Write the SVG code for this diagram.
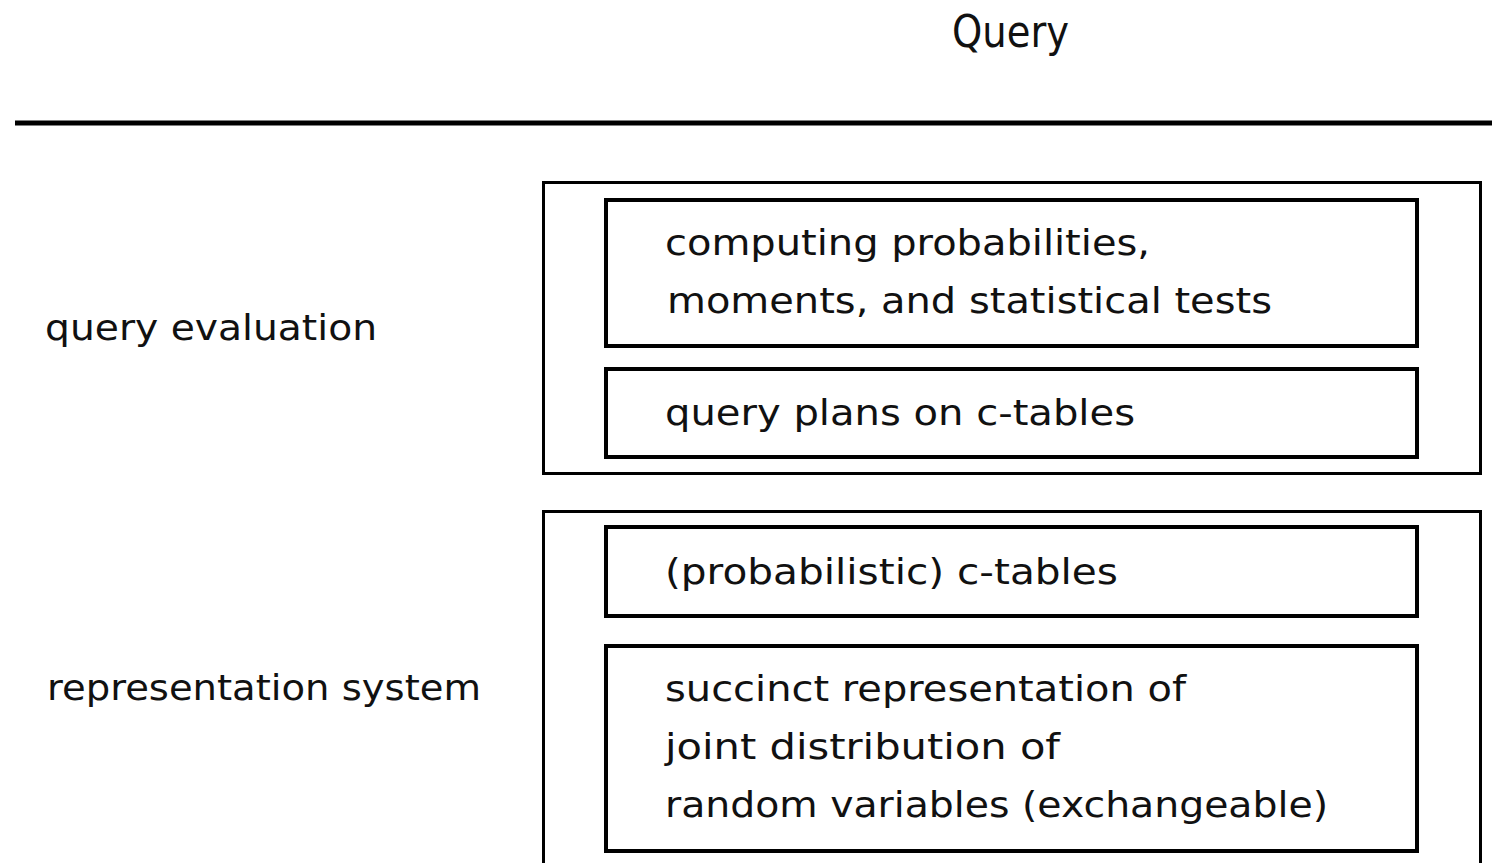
<svg xmlns="http://www.w3.org/2000/svg" width="1492" height="863" viewBox="0 0 1492 863">
<style>
text{font-family:"DejaVu Sans","Liberation Sans",sans-serif;font-size:36px;fill:#111;}
.title{font-size:44px;}
.outer{fill:none;stroke:#000;stroke-width:3;}
.inner{fill:none;stroke:#000;stroke-width:4;}
</style>
<rect width="1492" height="863" fill="#fff"/>
<g id="header">
<text class="title" x="952" y="47" textLength="117" lengthAdjust="spacingAndGlyphs">Query</text>
<line x1="15" y1="123" x2="1492" y2="123" stroke="#000" stroke-width="5"/>
</g>
<g id="label-query-evaluation"><text x="45" y="340" textLength="332" lengthAdjust="spacingAndGlyphs">query evaluation</text></g>
<g id="label-representation-system"><text x="47" y="700" textLength="434" lengthAdjust="spacingAndGlyphs">representation system</text></g>
<g id="query-evaluation-box"><rect class="outer" x="543.5" y="182.5" width="937" height="291"/></g>
<g id="computing-box">
<rect class="inner" x="606" y="200" width="811" height="146"/>
<text x="665" y="255" textLength="485" lengthAdjust="spacingAndGlyphs">computing probabilities,</text>
<text x="667" y="313" textLength="605" lengthAdjust="spacingAndGlyphs">moments, and statistical tests</text>
</g>
<g id="query-plans-box">
<rect class="inner" x="606" y="369" width="811" height="88"/>
<text x="665" y="425" textLength="470" lengthAdjust="spacingAndGlyphs">query plans on c-tables</text>
</g>
<g id="representation-system-box"><rect class="outer" x="543.5" y="511.5" width="937" height="360"/></g>
<g id="ctables-box">
<rect class="inner" x="606" y="527" width="811" height="89"/>
<text x="665" y="584" textLength="453" lengthAdjust="spacingAndGlyphs">(probabilistic) c-tables</text>
</g>
<g id="succinct-box">
<rect class="inner" x="606" y="646" width="811" height="205"/>
<text x="665" y="701" textLength="521" lengthAdjust="spacingAndGlyphs">succinct representation of</text>
<text x="665" y="759" textLength="395" lengthAdjust="spacingAndGlyphs">joint distribution of</text>
<text x="665" y="817" textLength="663" lengthAdjust="spacingAndGlyphs">random variables (exchangeable)</text>
</g>
<g id="connectors"></g>
</svg>
